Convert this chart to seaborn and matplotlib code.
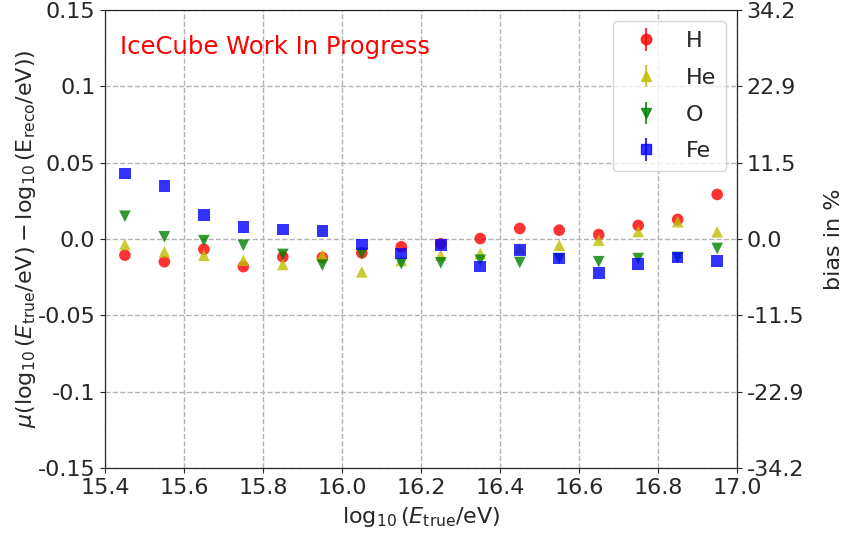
import numpy as np
import pandas as pd
import matplotlib
matplotlib.use("Agg")
import matplotlib.pyplot as plt
import seaborn as sns

# log10(E_true/eV) bin centres
energy = [15.45, 15.55, 15.65, 15.75, 15.85, 15.95, 16.05, 16.15,
          16.25, 16.35, 16.45, 16.55, 16.65, 16.75, 16.85, 16.95]

# mean of log10(E_true) - log10(E_reco) per primary
bias_H = [-0.0105, -0.0148, -0.0066, -0.018, -0.0116, -0.012, -0.009, -0.005,
          -0.003, 0.0004, 0.007, 0.0059, 0.003, 0.009, 0.0129, 0.0293]
bias_He = [-0.0035, -0.0083, -0.0105, -0.0138, -0.0166, -0.0105, -0.0214, -0.014,
           -0.0105, -0.0094, -0.006, -0.004, -0.0007, 0.005, 0.0114, 0.0048]
bias_O = [0.015, 0.0015, -0.001, -0.004, -0.010, -0.017, -0.0094, -0.016,
          -0.0155, -0.0138, -0.0153, -0.0127, -0.0148, -0.0127, -0.012, -0.0061]
bias_Fe = [0.043, 0.035, 0.0157, 0.008, 0.0063, 0.0052, -0.0035, -0.0094,
           -0.004, -0.018, -0.0072, -0.0127, -0.022, -0.0164, -0.012, -0.0144]

species = ["H", "He", "O", "Fe"]
colors = {"H": "r", "He": "y", "O": "g", "Fe": "b"}
markers = {"H": "o", "He": "^", "O": "v", "Fe": "s"}

yticks = [-0.15, -0.1, -0.05, 0.0, 0.05, 0.1, 0.15]
ytick_labels = ["-0.15", "-0.1", "-0.05", "0.0", "0.05", "0.1", "0.15"]
right_labels = ["-34.2", "-22.9", "-11.5", "0.0", "11.5", "22.9", "34.2"]

df = pd.DataFrame({
    "energy": energy * 4,
    "bias": bias_H + bias_He + bias_O + bias_Fe,
    "species": sum([[s] * len(energy) for s in species], []),
})

sns.set_style("ticks")
plt.rcParams["font.family"] = ["DejaVu Sans"]

fig, ax = plt.subplots(figsize=(8.48, 5.35), dpi=100)
fig.subplots_adjust(left=0.124, right=0.869, top=0.981, bottom=0.125)

# empty errorbars, only used for the legend entries
for s in species:
    ax.errorbar([], [], yerr=[], fmt=markers[s], color=colors[s],
                alpha=0.8, markersize=7.5, label=s)

sns.scatterplot(data=df, x="energy", y="bias", hue="species", style="species",
                palette=colors, markers=markers, s=70, alpha=0.8,
                edgecolor="none", legend=False, ax=ax, zorder=3)

ax.set_xlim(15.4, 17.0)
ax.set_ylim(-0.15, 0.15)
ax.set_xticks(np.arange(15.4, 17.01, 0.2))
ax.set_xticklabels([f"{v:.1f}" for v in np.arange(15.4, 17.01, 0.2)])
ax.set_yticks(yticks)
ax.set_yticklabels(ytick_labels)
ax.tick_params(labelsize=16)
ax.grid(True, linestyle="--", color="0.7", linewidth=1)
ax.set_xlabel(r"$\log_{10}(E_{\mathrm{true}}/\mathrm{eV})$", fontsize=16, labelpad=5)
ax.set_ylabel(r"$\mu(\log_{10}(E_{\mathrm{true}}/\mathrm{eV}) - \log_{10}(\mathrm{E_{reco}/eV}))$",
              fontsize=16, labelpad=0)

ax.text(0.024, 0.92, "IceCube Work In Progress", color="red", fontsize=17.5,
        transform=ax.transAxes, va="center")

ax.legend(loc="upper right", fontsize=16, handletextpad=0.8,
          labelspacing=0.75, borderpad=0.45)

ax2 = ax.twinx()
ax2.set_ylim(-0.15, 0.15)
ax2.set_yticks(yticks)
ax2.set_yticklabels(right_labels)
ax2.tick_params(labelsize=16)
ax2.set_ylabel("bias in %", fontsize=16, labelpad=14)

fig.savefig("out.png", dpi=100)
